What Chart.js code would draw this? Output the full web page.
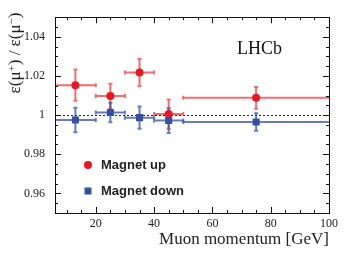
<!DOCTYPE html>
<html>
<head>
<meta charset="utf-8">
<script src="https://cdn.jsdelivr.net/npm/chart.js@4.4.1/dist/chart.umd.min.js"></script>
<style>
  html, body { margin: 0; padding: 0; background: #fff; }
</style>
</head>
<body>
<canvas id="canvas" width="346" height="254"></canvas>
<script>
// bins in muon momentum (GeV)
const binLow = [6, 20, 30, 40, 50]
const binHigh = [20, 30, 40, 50, 100]
const binCenter = [13, 25, 35, 45, 75]

// efficiency ratio, magnet up / magnet down
const upValues = [1.0153, 1.0097, 1.0217, 1.0005, 1.0088]
const upErrors = [0.0080, 0.0063, 0.0070, 0.0075, 0.0055]
const downValues = [0.9975, 1.0013, 0.9987, 0.9972, 0.9965]
const downErrors = [0.0063, 0.0050, 0.0057, 0.0063, 0.0045]

const xTicks = [20, 40, 60, 80, 100]
const yTicks = [0.96, 0.98, 1, 1.02, 1.04]
const yTickLabels = ["0.96", "0.98", "1", "1.02", "1.04"]

const RED = "#e8161f"
const BLUE = "#3450a2"
const SERIF = "'Liberation Serif', 'Times New Roman', serif"
const SANS = "'Liberation Sans', Arial, sans-serif"

const series = [
  { label: "Magnet up", values: upValues, errors: upErrors, color: RED, bar: "rgba(235,45,52,0.7)", style: "circle" },
  { label: "Magnet down", values: downValues, errors: downErrors, color: BLUE, bar: "rgba(52,80,162,0.75)", style: "rect" },
]

// error bars, reference line, frame, inward ticks, labels
const lhcbPlugin = {
  id: "lhcb",
  beforeDatasetsDraw(chart) {
    const { ctx, chartArea: a, scales: { x, y } } = chart
    ctx.save()
    // dotted line at 1
    ctx.strokeStyle = "#222"
    ctx.lineWidth = 1
    ctx.setLineDash([2, 2])
    const y1 = Math.round(y.getPixelForValue(1)) + 0.5
    ctx.beginPath()
    ctx.moveTo(a.left, y1)
    ctx.lineTo(a.right, y1)
    ctx.stroke()
    ctx.setLineDash([])

    series.forEach((s) => {
      ctx.strokeStyle = s.bar
      ctx.lineWidth = 2
      s.values.forEach((v, i) => {
        const px = x.getPixelForValue(binCenter[i])
        const py = y.getPixelForValue(v)
        const xl = Math.max(a.left, x.getPixelForValue(binLow[i]))
        const xr = Math.min(a.right, x.getPixelForValue(binHigh[i]))
        const yt = y.getPixelForValue(v + s.errors[i])
        const yb = y.getPixelForValue(v - s.errors[i])
        ctx.beginPath()
        ctx.moveTo(xl, py); ctx.lineTo(xr, py)
        ctx.moveTo(px, yt); ctx.lineTo(px, yb)
        // caps
        ctx.moveTo(px - 2, yt); ctx.lineTo(px + 2, yt)
        ctx.moveTo(px - 2, yb); ctx.lineTo(px + 2, yb)
        if (xl > a.left) { ctx.moveTo(xl, py - 2); ctx.lineTo(xl, py + 2) }
        if (xr < a.right) { ctx.moveTo(xr, py - 2); ctx.lineTo(xr, py + 2) }
        ctx.stroke()
      })
    })
    ctx.restore()
  },
  afterDraw(chart) {
    const { ctx, chartArea: a, scales: { x, y } } = chart
    ctx.save()
    ctx.strokeStyle = "#111"
    ctx.lineWidth = 1
    ctx.strokeRect(Math.round(a.left) + 0.5, Math.round(a.top) + 0.5, Math.round(a.right - a.left), Math.round(a.bottom - a.top))

    ctx.beginPath()
    for (let v = 10; v <= 100; v += 5) {
      const len = v % 20 === 0 ? 6 : 3
      const px = Math.round(x.getPixelForValue(v)) + 0.5
      ctx.moveTo(px, a.bottom); ctx.lineTo(px, a.bottom - len)
      ctx.moveTo(px, a.top); ctx.lineTo(px, a.top + len)
    }
    for (let k = 0; k <= 20; k++) {
      const v = 0.95 + k * 0.005
      const len = k % 4 === 2 ? 6 : 3
      const py = Math.round(y.getPixelForValue(v)) + 0.5
      ctx.moveTo(a.left, py); ctx.lineTo(a.left + len, py)
      ctx.moveTo(a.right, py); ctx.lineTo(a.right - len, py)
    }
    ctx.stroke()

    // y axis title with superscripts
    ctx.fillStyle = "#222"
    ctx.translate(15, 53)
    ctx.rotate(-Math.PI / 2)
    const parts = [["ε(μ", false], ["+", true], [") / ε(μ", false], ["−", true], [")", false]]
    const big = "17px " + SERIF
    const small = "11px " + SERIF
    let total = 0
    parts.forEach(([t, sup]) => { ctx.font = sup ? small : big; total += ctx.measureText(t).width })
    let cx = -total / 2
    ctx.textBaseline = "alphabetic"
    parts.forEach(([t, sup]) => {
      ctx.font = sup ? small : big
      ctx.fillText(t, cx, sup ? 0 : 5)
      cx += ctx.measureText(t).width
    })
    ctx.setTransform(1, 0, 0, 1, 0, 0)

    // LHCb label
    ctx.font = "18px " + SERIF
    ctx.fillStyle = "#111"
    ctx.fillText("LHCb", 237, 54)

    // legend
    ctx.font = "bold 13px " + SANS
    ctx.textBaseline = "middle"
    series.forEach((s, i) => {
      const ly = 165 + i * 26
      ctx.fillStyle = s.color
      if (s.style === "circle") {
        ctx.beginPath(); ctx.arc(88, ly, 4, 0, Math.PI * 2); ctx.fill()
      } else {
        ctx.fillRect(84.5, ly - 3.5, 7, 7)
      }
      ctx.fillStyle = "#222"
      ctx.fillText(s.label, 101, ly)
    })
    ctx.restore()
  },
}

const ctx = document.getElementById("canvas").getContext("2d")
new Chart(ctx, {
  type: "scatter",
  data: {
    datasets: series.map((s) => ({
      label: s.label,
      data: s.values.map((v, i) => ({ x: binCenter[i], y: v })),
      backgroundColor: s.color,
      borderColor: s.color,
      pointStyle: s.style,
      pointRadius: s.style === "circle" ? 4 : 5,
      borderWidth: 0,
    })),
  },
  options: {
    responsive: false,
    animation: false,
    layout: { padding: { left: 0, right: 17, top: 13, bottom: 0 } },
    plugins: { legend: { display: false }, tooltip: { enabled: false } },
    scales: {
      x: {
        type: "linear",
        min: 6,
        max: 100,
        afterFit: (s) => { s.height = 41 },
        afterBuildTicks: (s) => { s.ticks = xTicks.map((v) => ({ value: v })) },
        grid: { display: false, drawTicks: false },
        border: { display: false },
        ticks: { padding: 4, color: "#222", font: { family: SERIF, size: 12 } },
        title: {
          display: true,
          text: "Muon momentum [GeV]",
          align: "end",
          color: "#222",
          font: { family: SERIF, size: 17 },
          padding: { top: 0, bottom: 4 },
        },
      },
      y: {
        min: 0.95,
        max: 1.05,
        afterFit: (s) => { s.width = 55 },
        afterBuildTicks: (s) => { s.ticks = yTicks.map((v) => ({ value: v })) },
        grid: { display: false, drawTicks: false },
        border: { display: false },
        ticks: {
          padding: 10,
          color: "#222",
          font: { family: SERIF, size: 12 },
          callback: (v) => yTickLabels[yTicks.findIndex((t) => Math.abs(t - v) < 1e-9)],
        },
      },
    },
  },
  plugins: [lhcbPlugin],
})
</script>
</body>
</html>
